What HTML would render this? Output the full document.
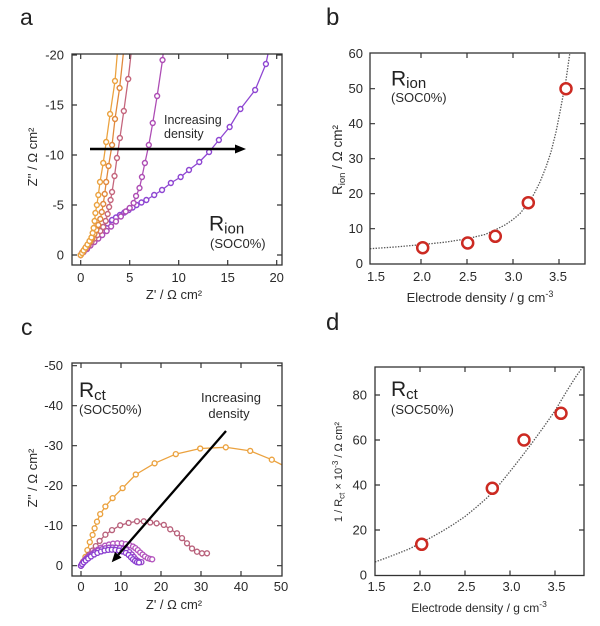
<!DOCTYPE html>
<html><head><meta charset="utf-8"><style>
html,body{margin:0;padding:0;background:#fff;}
svg{display:block;}
text{font-family:"Liberation Sans",sans-serif;fill:#2a2a2a;}
</style></head><body>
<svg width="600" height="626" viewBox="0 0 600 626" xmlns="http://www.w3.org/2000/svg">
<defs>
<marker id="a1" markerUnits="userSpaceOnUse" markerWidth="1" markerHeight="1" viewBox="-0.5 -0.5 1 1" refX="0" refY="0"><circle cx="0" cy="0" r="0.25" fill="#fff" stroke="#eba23f" stroke-width="0.14"/></marker>
<marker id="a2" markerUnits="userSpaceOnUse" markerWidth="1" markerHeight="1" viewBox="-0.5 -0.5 1 1" refX="0" refY="0"><circle cx="0" cy="0" r="0.25" fill="#fff" stroke="#e0883c" stroke-width="0.14"/></marker>
<marker id="a3" markerUnits="userSpaceOnUse" markerWidth="1" markerHeight="1" viewBox="-0.5 -0.5 1 1" refX="0" refY="0"><circle cx="0" cy="0" r="0.25" fill="#fff" stroke="#c4657c" stroke-width="0.14"/></marker>
<marker id="a4" markerUnits="userSpaceOnUse" markerWidth="1" markerHeight="1" viewBox="-0.5 -0.5 1 1" refX="0" refY="0"><circle cx="0" cy="0" r="0.25" fill="#fff" stroke="#ad4cb4" stroke-width="0.14"/></marker>
<marker id="a5" markerUnits="userSpaceOnUse" markerWidth="1" markerHeight="1" viewBox="-0.5 -0.5 1 1" refX="0" refY="0"><circle cx="0" cy="0" r="0.25" fill="#fff" stroke="#8e46d2" stroke-width="0.14"/></marker>

<marker id="c1" markerUnits="userSpaceOnUse" markerWidth="2" markerHeight="2" viewBox="-1 -1 2 2" refX="0" refY="0"><circle cx="0" cy="0" r="0.62" fill="#fff" stroke="#eba23f" stroke-width="0.34"/></marker>
<marker id="c2" markerUnits="userSpaceOnUse" markerWidth="2" markerHeight="2" viewBox="-1 -1 2 2" refX="0" refY="0"><circle cx="0" cy="0" r="0.62" fill="#fff" stroke="#b8607a" stroke-width="0.34"/></marker>
<marker id="c3" markerUnits="userSpaceOnUse" markerWidth="2" markerHeight="2" viewBox="-1 -1 2 2" refX="0" refY="0"><circle cx="0" cy="0" r="0.62" fill="#fff" stroke="#b455be" stroke-width="0.34"/></marker>
<marker id="c4" markerUnits="userSpaceOnUse" markerWidth="2" markerHeight="2" viewBox="-1 -1 2 2" refX="0" refY="0"><circle cx="0" cy="0" r="0.62" fill="#fff" stroke="#9a48c6" stroke-width="0.34"/></marker>
<marker id="c5" markerUnits="userSpaceOnUse" markerWidth="2" markerHeight="2" viewBox="-1 -1 2 2" refX="0" refY="0"><circle cx="0" cy="0" r="0.62" fill="#fff" stroke="#8a3ed0" stroke-width="0.34"/></marker>

<clipPath id="clipA"><rect x="72" y="54" width="210" height="211"/></clipPath>
<clipPath id="clipB"><rect x="370" y="53" width="215" height="211"/></clipPath>
<clipPath id="clipC"><rect x="72" y="363" width="210" height="213"/></clipPath>
<clipPath id="clipD"><rect x="375" y="367" width="209" height="209"/></clipPath>
</defs>

<rect width="600" height="626" fill="#fff"/>

<!-- Panel letters -->
<text x="20" y="25" font-size="23" style="fill:#222">a</text>
<text x="326" y="25" font-size="24" style="fill:#222">b</text>
<text x="21" y="335" font-size="23" style="fill:#222">c</text>
<text x="326" y="330" font-size="24" style="fill:#222">d</text>

<!-- ================= Panel a ================= -->
<g clip-path="url(#clipA)">
<g transform="translate(80.7,255) scale(9.8,-10)" fill="none" stroke-width="0.13" stroke-linejoin="round">
<polyline stroke="#8e46d2" marker-start="url(#a5)" marker-mid="url(#a5)" marker-end="url(#a5)" points="0,0 0.15,0.25 0.35,0.5 0.55,0.8 0.8,1.1 1.05,1.45 1.35,1.8 1.65,2.15 2.0,2.5 2.3,2.8 2.75,3.15 3.2,3.5 3.6,3.75 4.0,4.0 4.45,4.25 4.9,4.5 5.3,4.75 5.7,5.0 6.2,5.25 6.7,5.5 7.5,6.0 8.3,6.5 9.2,7.2 10.2,7.8 11.05,8.5 12.1,9.3 13.1,10.3 14.1,11.5 15.2,12.8 16.3,14.6 17.8,16.5 18.9,19.1 19.4,21.5"/>
<polyline stroke="#ad4cb4" marker-start="url(#a4)" marker-mid="url(#a4)" marker-end="url(#a4)" points="0,0 0.3,0.3 0.65,0.6 1.0,0.95 1.4,1.3 1.8,1.65 2.2,2.0 2.65,2.4 3.1,2.85 3.6,3.35 4.1,3.85 4.6,4.35 5.0,4.7 5.4,5.2 5.65,5.9 6.0,6.7 6.25,7.8 6.55,9.2 6.95,11.0 7.35,13.2 7.8,15.9 8.35,19.5 8.55,21.5"/>
<polyline stroke="#c4657c" marker-start="url(#a3)" marker-mid="url(#a3)" marker-end="url(#a3)" points="0,0 0.25,0.3 0.5,0.6 0.8,0.95 1.1,1.3 1.4,1.65 1.7,2.0 2.0,2.4 2.3,2.8 2.55,3.4 2.75,4.1 2.9,4.8 3.05,5.5 3.2,6.3 3.45,7.9 3.7,9.7 4.0,11.7 4.4,14.4 4.85,17.6 5.3,21.5"/>
<polyline stroke="#e0883c" marker-start="url(#a2)" marker-mid="url(#a2)" marker-end="url(#a2)" points="0,0 0.2,0.3 0.45,0.65 0.7,1.0 0.95,1.35 1.2,1.7 1.4,2.1 1.6,2.5 1.8,3.0 2.0,3.6 2.15,4.3 2.3,5.1 2.45,6.1 2.6,7.3 2.84,8.9 3.2,11.0 3.5,13.6 3.97,16.7 4.5,21.5"/>
<polyline stroke="#eba23f" marker-start="url(#a1)" marker-mid="url(#a1)" marker-end="url(#a1)" points="0,0 0.15,0.2 0.3,0.45 0.5,0.75 0.7,1.05 0.9,1.4 1.1,1.75 1.22,2.2 1.32,2.7 1.42,3.4 1.5,4.2 1.65,5.0 1.8,6.0 1.97,7.3 2.3,9.2 2.6,11.3 3.0,14.1 3.5,17.4 3.85,21.5"/>
</g>
</g>
<rect x="72" y="54" width="210" height="211" fill="none" stroke="#333" stroke-width="1.3"/>
<path d="M80.7 265v-5M129.7 265v-5M178.7 265v-5M227.7 265v-5M276.7 265v-5M80.7 54v5M129.7 54v5M178.7 54v5M227.7 54v5M276.7 54v5M72 255h5M72 205h5M72 155h5M72 105h5M72 55h5M282 255h-5M282 205h-5M282 155h-5M282 105h-5M282 55h-5" stroke="#333" stroke-width="1.2" fill="none"/>
<g font-size="13" text-anchor="end">
<text x="64" y="259.5">0</text><text x="64" y="209.5">-5</text><text x="64" y="159.5">-10</text><text x="64" y="109.5">-15</text><text x="64" y="59.5">-20</text>
</g>
<g font-size="13" text-anchor="middle">
<text x="80.7" y="282">0</text><text x="129.7" y="282">5</text><text x="178.7" y="282">10</text><text x="227.7" y="282">15</text><text x="276.7" y="282">20</text>
<text x="174" y="299">Z' / Ω cm²</text>
</g>
<text transform="translate(37,157) rotate(-90)" font-size="13" text-anchor="middle">Z'' / Ω cm²</text>
<!-- arrow a -->
<line x1="90" y1="149" x2="238" y2="149" stroke="#000" stroke-width="2.5"/>
<polygon points="235,144.5 246,149 235,153.5" fill="#000"/>
<text x="164" y="124" font-size="12.5">Increasing</text>
<text x="164" y="138" font-size="12.5">density</text>
<text x="209" y="230.5" font-size="21" style="fill:#222">R<tspan font-size="15" dy="3">ion</tspan></text>
<text x="210" y="248" font-size="13">(SOC0%)</text>

<!-- ================= Panel b ================= -->
<g clip-path="url(#clipB)">
<polyline fill="none" stroke="#555" stroke-width="1.3" stroke-dasharray="1.4 1.4" points="370,248.7 395,247 420,244.8 445,242.2 467,238.8 485,234.5 495,230 505,225 513,219.5 520,213.5 528,203.5 534,194 540,182 546,167 551,152 556,132 560,112 563,96 566,80 568,66 570,52"/>
</g>
<g fill="#fff" stroke="#cc2a22" stroke-width="2.5">
<circle cx="422.7" cy="247.7" r="5.5"/><circle cx="467.7" cy="243" r="5.5"/><circle cx="495.3" cy="236.3" r="5.5"/><circle cx="528.3" cy="202.7" r="5.5"/><circle cx="566" cy="88.7" r="5.5"/>
</g>
<rect x="370" y="53" width="215" height="211" fill="none" stroke="#333" stroke-width="1.3"/>
<path d="M421 264v-5M467 264v-5M513 264v-5M559 264v-5M421 53v5M467 53v5M513 53v5M559 53v5M370 228.7h5M370 193.7h5M370 158.7h5M370 123.7h5M370 88.7h5M585 228.7h-5M585 193.7h-5M585 158.7h-5M585 123.7h-5M585 88.7h-5" stroke="#333" stroke-width="1.2" fill="none"/>
<g font-size="13" text-anchor="end">
<text x="363" y="268">0</text><text x="363" y="233">10</text><text x="363" y="198">20</text><text x="363" y="163">30</text><text x="363" y="128">40</text><text x="363" y="93">50</text><text x="363" y="58">60</text>
</g>
<g font-size="13" text-anchor="middle">
<text x="376" y="281">1.5</text><text x="422" y="281">2.0</text><text x="468" y="281">2.5</text><text x="513.5" y="281">3.0</text><text x="558" y="281">3.5</text>
<text x="480" y="302">Electrode density / g cm<tspan font-size="9" dy="-5">-3</tspan></text>
</g>
<text transform="translate(342,160) rotate(-90)" font-size="13.5" text-anchor="middle">R<tspan font-size="9.5" dy="3">ion</tspan><tspan dy="-3"> / Ω cm²</tspan></text>
<text x="391" y="85.5" font-size="21" style="fill:#222">R<tspan font-size="15" dy="2.5">ion</tspan></text>
<text x="391" y="102" font-size="13">(SOC0%)</text>

<!-- ================= Panel c ================= -->
<g clip-path="url(#clipC)">
<g transform="translate(81,565.7) scale(4,-4)" fill="none" stroke-width="0.32" stroke-linejoin="round">
<polyline stroke="#eba23f" marker-start="url(#c1)" marker-mid="url(#c1)" marker-end="url(#c1)" points="0,0 0.5,1.0 1.1,2.2 1.6,3.9 2.2,5.9 2.9,7.7 3.4,9.35 4.0,11 4.8,12.9 6.1,14.8 7.9,16.9 10.4,19.4 13.7,22.8 18.4,25.6 23.7,27.9 29.8,29.3 36.2,29.6 42.3,28.7 47.7,26.5 53,23.8"/>
<polyline stroke="#b8607a" marker-start="url(#c2)" marker-mid="url(#c2)" marker-end="url(#c2)" points="0,0 0.35,0.6 0.8,1.2 1.4,1.9 2.1,2.8 2.9,3.8 3.7,4.9 4.65,6.2 6.1,7.75 7.75,8.9 9.8,10.1 11.9,10.7 14.0,11.1 15.7,11.1 17.3,10.8 18.9,10.6 20.7,10.2 22.3,9.1 24.0,8.1 25.25,6.9 26.5,5.6 27.75,4.3 29.0,3.5 30.25,3.1 31.5,3.1"/>
<polyline stroke="#b455be" marker-start="url(#c3)" marker-mid="url(#c3)" marker-end="url(#c3)" points="0,0 0.25,0.5 0.6,1.0 1.0,1.5 1.5,2.0 2.0,2.5 2.7,3.0 3.4,3.5 4.2,4.0 5.0,4.5 6.0,5.0 7.0,5.3 8.0,5.5 9.1,5.6 10.2,5.6 11.2,5.4 12.2,5.1 13.0,4.8 13.6,4.4 14.2,3.9 14.8,3.3 15.4,2.8 16.0,2.3 16.7,1.9 17.3,1.7 17.8,1.6"/>
<polyline stroke="#9a48c6" marker-start="url(#c4)" marker-mid="url(#c4)" marker-end="url(#c4)" points="0,0 0.25,0.45 0.6,0.9 1.0,1.35 1.5,1.8 2.1,2.3 2.8,2.8 3.5,3.3 4.3,3.8 5.2,4.1 6.1,4.35 7.0,4.5 7.9,4.55 8.8,4.5 9.7,4.4 10.6,4.2 11.4,3.9 12.1,3.4 12.7,2.8 13.2,2.2 13.7,1.6 14.2,1.2 14.7,0.95 15.1,0.9"/>
<polyline stroke="#8a3ed0" marker-start="url(#c5)" marker-mid="url(#c5)" marker-end="url(#c5)" points="0,0 0.3,0.4 0.7,0.85 1.2,1.3 1.8,1.8 2.5,2.3 3.3,2.8 4.1,3.2 5.0,3.55 5.9,3.8 6.8,3.95 7.7,4.0 8.6,3.95 9.5,3.8 10.4,3.55 11.2,3.2 11.9,2.7 12.5,2.1 13.0,1.6 13.5,1.2 14.0,0.9 14.5,0.8"/>
</g>
</g>
<rect x="72" y="363" width="210" height="213" fill="none" stroke="#333" stroke-width="1.3"/>
<path d="M81 576v-5M121 576v-5M161 576v-5M201 576v-5M241 576v-5M81 363v5M121 363v5M161 363v5M201 363v5M241 363v5M72 565.7h5M72 525.7h5M72 485.7h5M72 445.7h5M72 405.7h5M72 365.7h5M282 565.7h-5M282 525.7h-5M282 485.7h-5M282 445.7h-5M282 405.7h-5M282 365.7h-5" stroke="#333" stroke-width="1.2" fill="none"/>
<g font-size="13" text-anchor="end">
<text x="63" y="570">0</text><text x="63" y="530">-10</text><text x="63" y="490">-20</text><text x="63" y="450">-30</text><text x="63" y="410">-40</text><text x="63" y="370">-50</text>
</g>
<g font-size="13" text-anchor="middle">
<text x="81" y="591">0</text><text x="121" y="591">10</text><text x="161" y="591">20</text><text x="201" y="591">30</text><text x="241" y="591">40</text><text x="281" y="591">50</text>
<text x="174" y="609">Z' / Ω cm²</text>
</g>
<text transform="translate(37,478) rotate(-90)" font-size="13" text-anchor="middle">Z'' / Ω cm²</text>
<!-- arrow c -->
<line x1="226" y1="431" x2="118.3" y2="554.8" stroke="#000" stroke-width="2.3"/>
<polygon points="111.7,562.3 121.6,557.6 115.0,551.9" fill="#000"/>
<g font-size="13" text-anchor="middle">
<text x="231" y="402">Increasing</text>
<text x="229" y="418">density</text>
</g>
<text x="79" y="397" font-size="21" style="fill:#222">R<tspan font-size="15" dy="3">ct</tspan></text>
<text x="79" y="414" font-size="13">(SOC50%)</text>

<!-- ================= Panel d ================= -->
<g clip-path="url(#clipD)">
<polyline fill="none" stroke="#555" stroke-width="1.3" stroke-dasharray="1.4 1.4" points="375,562 386,558 397.5,553.6 409,549 420,543.5 431,537.5 442.5,531.1 454,524 465,516.5 476,507.5 487.5,497.4 499,485 510,471.5 521,457.5 532.5,442.3 544,426.5 555,410.8 562,399 568.5,388.3 576,376.5 585,364"/>
</g>
<g fill="#fff" stroke="#cc2a22" stroke-width="2.5">
<circle cx="421.7" cy="544.3" r="5.5"/><circle cx="492.3" cy="488.3" r="5.5"/><circle cx="524" cy="440" r="5.5"/><circle cx="561" cy="413.3" r="5.5"/>
</g>
<rect x="375" y="367" width="209" height="208.5" fill="none" stroke="#333" stroke-width="1.3"/>
<path d="M420 575.5v-5M465 575.5v-5M510 575.5v-5M555 575.5v-5M420 367v5M465 367v5M510 367v5M555 367v5M375 530h5M375 485h5M375 440h5M375 395h5M584 530h-5M584 485h-5M584 440h-5M584 395h-5" stroke="#333" stroke-width="1.2" fill="none"/>
<g font-size="13" text-anchor="end">
<text x="367" y="579.5">0</text><text x="367" y="534.5">20</text><text x="367" y="489.5">40</text><text x="367" y="444.5">60</text><text x="367" y="399.5">80</text>
</g>
<g font-size="13" text-anchor="middle">
<text x="376.5" y="591">1.5</text><text x="422" y="591">2.0</text><text x="466.5" y="591">2.5</text><text x="511.5" y="591">3.0</text><text x="556.5" y="591">3.5</text>
</g>
<text x="479" y="612" font-size="12" text-anchor="middle">Electrode density / g cm<tspan font-size="8.5" dy="-5">-3</tspan></text>
<text transform="translate(342,472) rotate(-90)" font-size="11" text-anchor="middle">1 / R<tspan font-size="8" dy="2.5">ct</tspan><tspan dy="-2.5"> × 10</tspan><tspan font-size="8" dy="-4">-3</tspan><tspan dy="4"> / Ω cm²</tspan></text>
<text x="391" y="396" font-size="21" style="fill:#222">R<tspan font-size="15" dy="3">ct</tspan></text>
<text x="391" y="414" font-size="13">(SOC50%)</text>
</svg>
</body></html>
